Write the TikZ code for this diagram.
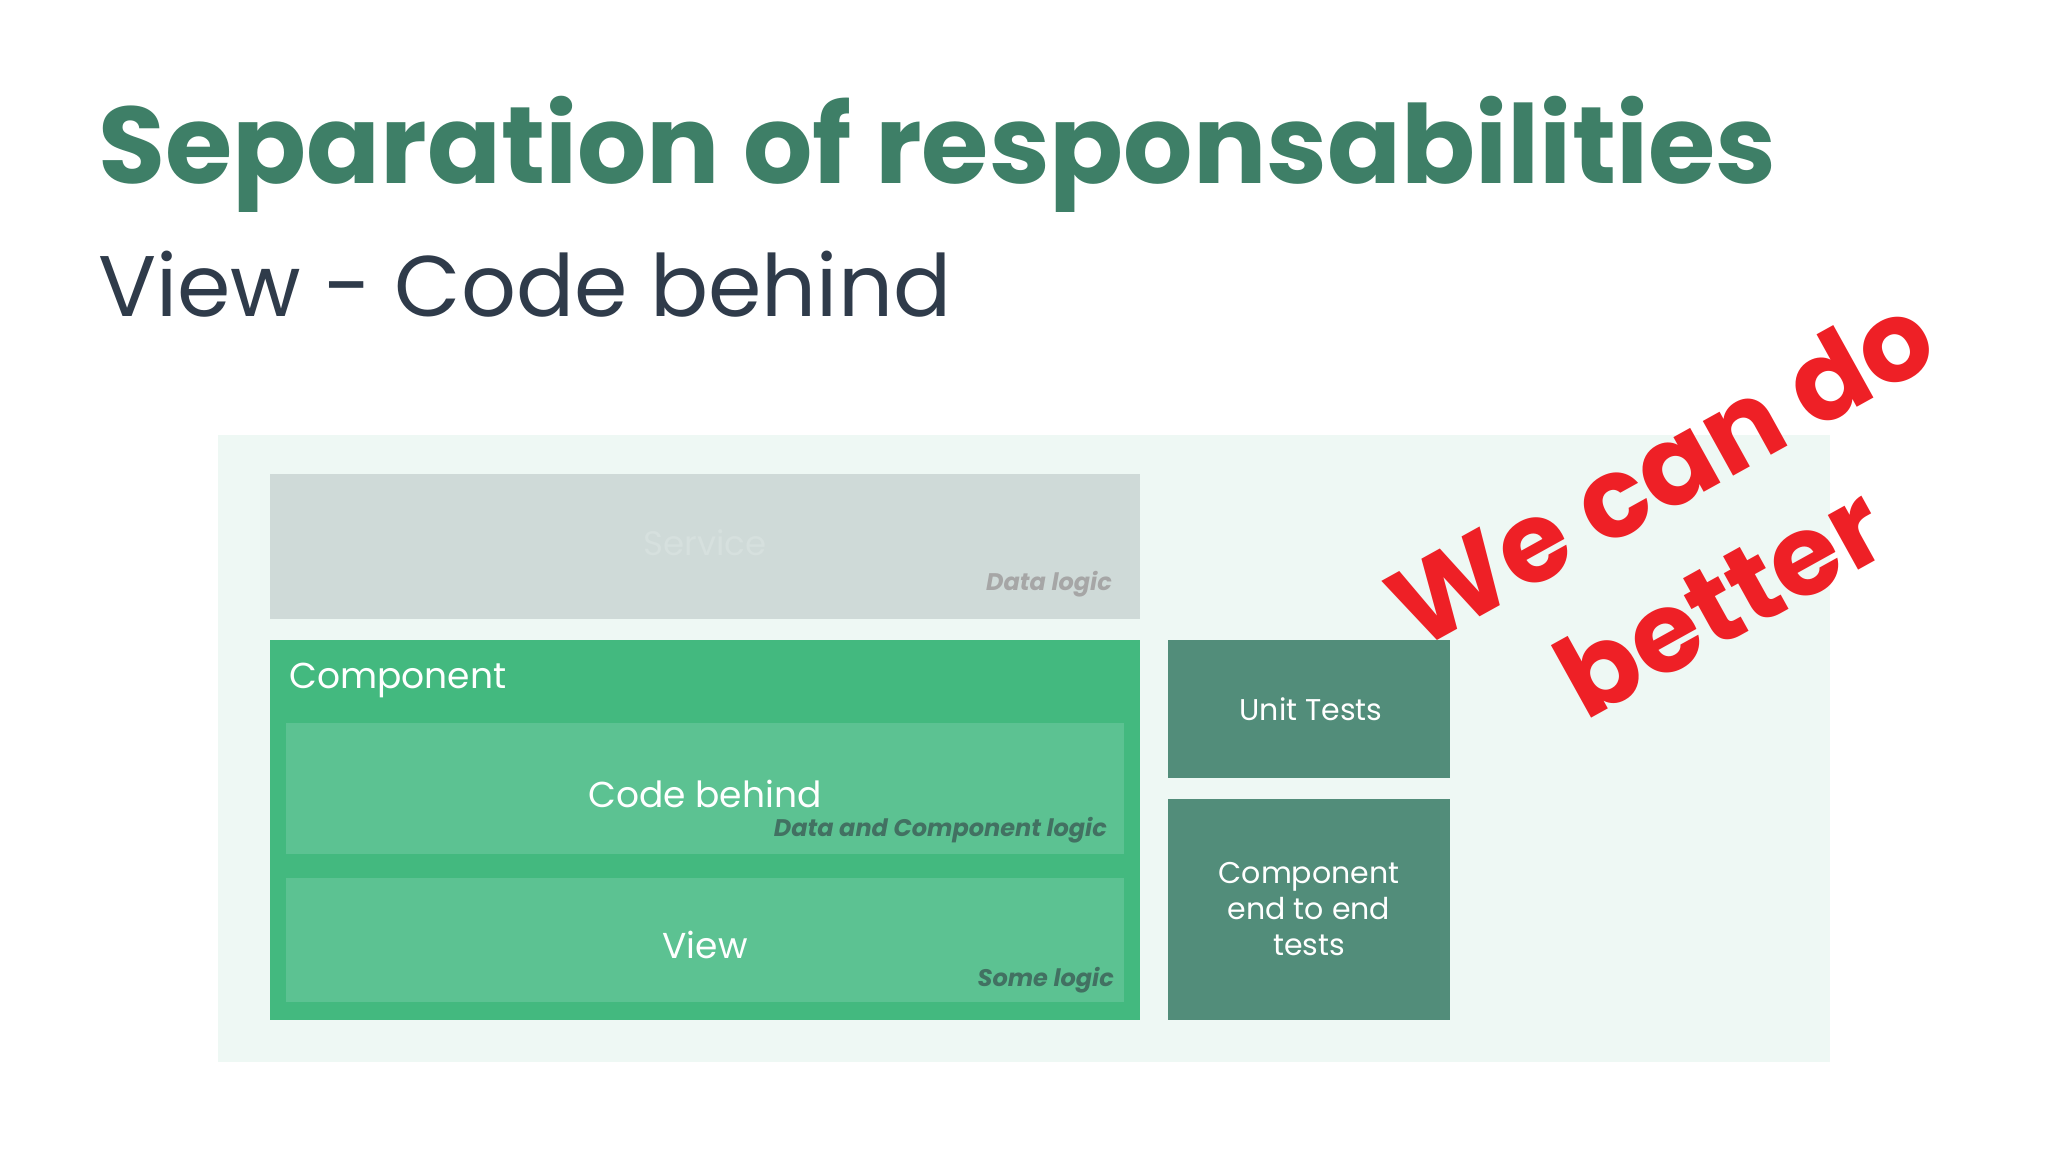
\documentclass[tikz,border=0pt]{standalone}
\usepackage{fontspec}
\setmainfont{Poppins}
\begin{document}
\begin{tikzpicture}[x=1pt,y=-1pt,
  box/.style={draw=none,anchor=north west,inner sep=0pt},
  lbl/.style={text=white,font=\fontsize{36}{40}\selectfont},
  note/.style={font=\fontsize{24}{28}\selectfont\bfseries\itshape,anchor=south east,inner sep=0pt}]
\useasboundingbox (0,0) rectangle (2048,1152);
\fill[white] (0,0) rectangle (2048,1152);
\definecolor{titlegreen}{HTML}{3E7F67}
\definecolor{subgray}{HTML}{2F3B4A}
\definecolor{panel}{HTML}{EEF8F4}
\definecolor{svc}{HTML}{CFDAD8}
\definecolor{comp}{HTML}{43B97F}
\definecolor{inner}{HTML}{5CC292}
\definecolor{test}{HTML}{528D7A}
\definecolor{red}{HTML}{EE2026}
\node[anchor=base west,inner sep=0pt,text=titlegreen,font=\fontsize{109}{120}\selectfont\bfseries] (title) at (98,183) {Separation of responsabilities};
\node[anchor=base west,inner sep=0pt,text=subgray,font=\fontsize{86}{100}\selectfont] (sub) at (98,316) {View - Code behind};
\fill[panel] (218,435) rectangle (1830,1062);
\fill[svc] (270,474) rectangle (1140,619);
\node[text=svc!85!white,font=\fontsize{34}{40}\selectfont] (svct) at (705,543) {Service};
\node[note,text=gray!70] (svcn) at (1112,597) {Data logic};
\fill[comp] (270,640) rectangle (1140,1020);
\node[lbl,anchor=west] (compt) at (286,680) {Component};
\fill[inner] (286,723) rectangle (1124,854);
\node[lbl] (cbt) at (705,794) {Code behind};
\node[note,text=test!80!black] (cbn) at (1107,843) {Data and Component logic};
\fill[inner] (286,878) rectangle (1124,1002);
\node[lbl] (vt) at (705,945) {View};
\node[note,text=test!80!black] (vn) at (1114,993) {Some logic};
\fill[test] (1168,640) rectangle (1450,778);
\node[lbl,font=\fontsize{30}{34}\selectfont] (ut) at (1311,709) {Unit Tests};
\fill[test] (1168,799) rectangle (1450,1020);
\node[lbl,font=\fontsize{30}{36}\selectfont,align=center] (e2e) at (1309,909) {Component\\end to end\\tests};
\node[text=red,font=\fontsize{112}{120}\selectfont\bfseries,rotate=29] (we) at (1660,470) {We can do};
\node[text=red,font=\fontsize{112}{120}\selectfont\bfseries,rotate=29] (bet) at (1720,600) {better};
\end{tikzpicture}
\end{document}
